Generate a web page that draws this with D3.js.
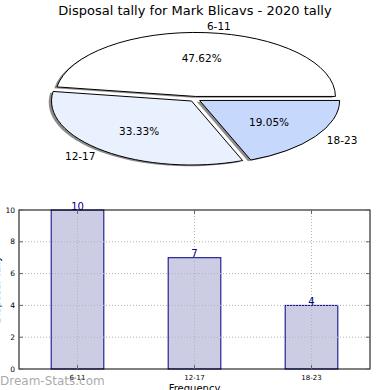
<!DOCTYPE html>
<html><head><meta charset="utf-8">
<script src="https://cdn.jsdelivr.net/npm/d3@7"></script>
<style>body{margin:0;background:#fff}svg{display:block;font-family:"DejaVu Sans",sans-serif}</style>
</head><body><svg id="c" width="390" height="390"></svg>
<script>
const title = "Disposal tally for Mark Blicavs - 2020 tally";
const categories = ["6-11", "12-17", "18-23"];
const values = [10, 7, 4];
const pieColors = ["#ffffff", "#eaf1fe", "#c6d8fc"];
const yTicks = [0, 2, 4, 6, 8, 10];
const yLabel = "Disposal Tally";
const xLabel = "Frequency";

const svg = d3.select("#c");
svg.append("rect").attr("width",390).attr("height",390).attr("fill","#fff");

svg.append("text").attr("x",195).attr("y",15).attr("text-anchor","middle")
  .attr("font-size",13).attr("fill","#000").text(title);

// Pie (elliptical, matplotlib style)
const cx = 195, cy = 99, rx = 140, ry = 64, explode = 0.04;
const total = d3.sum(values);
const pie = d3.pie().sort(null).startAngle(Math.PI/2).endAngle(Math.PI/2 - 2*Math.PI);
const arcs = pie(values);
const arc = d3.arc().innerRadius(0).outerRadius(rx);
const pg = svg.append("g");
arcs.forEach((a, i) => {
  const m = (a.startAngle + a.endAngle)/2;
  const ox = cx + explode*rx*Math.sin(m), oy = cy - explode*ry*Math.cos(m);
  pg.append("path").attr("d", arc(a))
    .attr("transform", `translate(${ox-2.8},${oy+1.3}) scale(1,${ry/rx})`)
    .attr("fill", "#000").attr("fill-opacity", 0.45).attr("stroke","none");
});
arcs.forEach((a, i) => {
  const m = (a.startAngle + a.endAngle)/2;
  const ox = cx + explode*rx*Math.sin(m), oy = cy - explode*ry*Math.cos(m);
  pg.append("path").attr("d", arc(a))
    .attr("transform", `translate(${ox},${oy}) scale(1,${ry/rx})`)
    .attr("fill", pieColors[i]).attr("stroke","#000").attr("stroke-width",1)
    .attr("vector-effect","non-scaling-stroke");
});
arcs.forEach((a, i) => {
  const m = (a.startAngle + a.endAngle)/2;
  const ox = cx + explode*rx*Math.sin(m), oy = cy - explode*ry*Math.cos(m);
  const sx = Math.sin(m), sy = -Math.cos(m);
  pg.append("text").attr("x", ox + 1.1*rx*sx).attr("y", oy + 1.1*ry*sy)
    .attr("dy","0.35em").attr("font-size",10.5)
    .attr("text-anchor", sx > 0 ? "start" : "end").text(categories[i]);
  pg.append("text").attr("x", ox + 0.6*rx*sx).attr("y", oy + 0.6*ry*sy)
    .attr("dy","0.35em").attr("font-size",10.5).attr("text-anchor","middle")
    .text((values[i]/total*100).toFixed(2) + "%");
});

// Bar chart
const L = 19, R = 370, T = 210, B = 369;
const x = d3.scaleLinear().domain([-0.5, 2.5]).range([L, R]);
const y = d3.scaleLinear().domain([0, 10]).range([B, T]);
const bw = x(0.45) - x(0);
const bg = svg.append("g");
bg.selectAll(".bar").data(values).enter().append("rect")
  .attr("x",(d,i)=>x(i)-bw/2).attr("y",d=>y(d)).attr("width",bw).attr("height",d=>B-y(d))
  .attr("fill","#ccccE5").attr("stroke","#000080").attr("stroke-width",1);
bg.selectAll(".gy").data(yTicks.slice(1,5)).enter().append("line")
  .attr("x1",L).attr("x2",R).attr("y1",d=>y(d)).attr("y2",d=>y(d))
  .attr("stroke","#b4b4b4").attr("stroke-dasharray","1,2");
bg.selectAll(".gx").data(categories).enter().append("line")
  .attr("x1",(d,i)=>x(i)).attr("x2",(d,i)=>x(i)).attr("y1",T).attr("y2",B)
  .attr("stroke","#b4b4b4").attr("stroke-dasharray","1,2");
bg.selectAll(".vl").data(values).enter().append("text")
  .attr("x",(d,i)=>x(i)).attr("y",d=>y(d)-0.5).attr("text-anchor","middle")
  .attr("font-size",10).attr("fill","#000080").text(d=>d);
bg.append("rect").attr("x",L).attr("y",T).attr("width",R-L).attr("height",B-T)
  .attr("fill","none").attr("stroke","#000").attr("stroke-width",1);
yTicks.forEach(t => {
  bg.append("line").attr("x1",L).attr("x2",L+4).attr("y1",y(t)).attr("y2",y(t)).attr("stroke","#666");
  bg.append("line").attr("x1",R-4).attr("x2",R).attr("y1",y(t)).attr("y2",y(t)).attr("stroke","#666");
});
categories.forEach((c,i) => {
  bg.append("line").attr("x1",x(i)).attr("x2",x(i)).attr("y1",B-4).attr("y2",B).attr("stroke","#666");
  bg.append("line").attr("x1",x(i)).attr("x2",x(i)).attr("y1",T).attr("y2",T+4).attr("stroke","#666");
});
bg.selectAll(".yt").data(yTicks).enter().append("text")
  .attr("x",L-4).attr("y",d=>y(d)).attr("dy","0.35em").attr("text-anchor","end")
  .attr("font-size",7.5).text(d=>d);
bg.selectAll(".xt").data(categories).enter().append("text")
  .attr("x",(d,i)=>x(i)).attr("y",B+11).attr("text-anchor","middle")
  .attr("font-size",7).text(d=>d);
svg.append("text").attr("transform",`translate(0,${(T+B)/2}) rotate(-90)`)
  .attr("text-anchor","middle").attr("font-size",10).text(yLabel);
svg.append("text").attr("x",(L+R)/2).attr("y",392).attr("text-anchor","middle")
  .attr("font-size",10).text(xLabel);
svg.append("text").attr("x",0).attr("y",385).attr("font-size",12)
  .attr("fill","#999").attr("fill-opacity",0.85).text("Dream-Stats.com");
</script></body></html>
